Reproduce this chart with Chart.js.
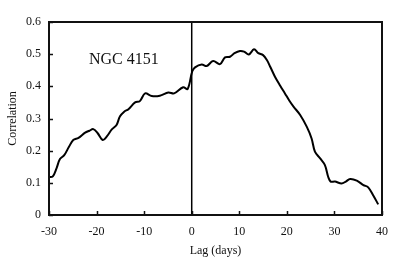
<!DOCTYPE html>
<html>
<head>
<meta charset="utf-8">
<script src="https://cdn.jsdelivr.net/npm/chart.js@4.4.0/dist/chart.umd.min.js"></script>
<style>
  html, body { margin: 0; padding: 0; background: #fff; }
  #wrap { width: 399px; height: 266px; }
</style>
</head>
<body>
<div id="wrap"><canvas id="graficoLag"></canvas></div>
<script>
// datos (lag en dias, correlacion)
const lagDias = [-30, -29.2, -28.4, -27.7, -26.8, -25.8, -24.9, -23.8, -22.4, -21.5, -20.7, -19.8, -18.7, -17.8,
  -16.8, -15.8, -15.1, -14.2, -13.3, -11.9, -10.9, -9.8, -8.4, -6.7, -4.9, -3.7, -1.8, -0.85,
  0.1, 0.7, 2.1, 3.15, 4.5, 5.95, 7.0, 8.05, 9.0, 10.15, 11.0, 12.0, 13.1, 14.0, 15.0, 15.8, 16.5,
  17.5, 18.6, 19.6, 20.5, 21.4, 22.8, 24.2, 25.2, 25.9, 27.0, 28.0, 28.7, 29.2, 30.1, 31.5, 32.4,
  33.3, 34.7, 36.1, 37.1, 38.2, 39.2];
const correlacion = [0.118, 0.120, 0.146, 0.174, 0.186, 0.212, 0.233, 0.240, 0.256, 0.262, 0.267, 0.255, 0.233, 0.245,
  0.266, 0.280, 0.306, 0.321, 0.329, 0.350, 0.354, 0.378, 0.370, 0.371, 0.381, 0.378, 0.397, 0.392,
  0.446, 0.459, 0.468, 0.463, 0.479, 0.469, 0.490, 0.492, 0.503, 0.510, 0.508, 0.499, 0.515, 0.503, 0.497, 0.482, 0.461,
  0.430, 0.402, 0.378, 0.356, 0.337, 0.311, 0.274, 0.238, 0.197, 0.176, 0.155, 0.118, 0.104, 0.104, 0.098, 0.104,
  0.112, 0.107, 0.093, 0.086, 0.060, 0.033];

// linea vertical en lag = 0
const lineaCero = [{ x: 0, y: 0 }, { x: 0, y: 0.6 }];

const ticksX = [-30, -20, -10, 0, 10, 20, 30, 40];
const ticksY = [0, 0.1, 0.2, 0.3, 0.4, 0.5, 0.6];
const etiqueta = { texto: 'NGC 4151', x: -21.6, y: 0.482 };

const fuente = 'Liberation Serif';

let puntos = [];
for (let i = 0; i < lagDias.length; i++) {
  puntos.push({ x: lagDias[i], y: correlacion[i] });
}

// marco, ticks hacia adentro y texto
const marcoPlugin = {
  id: 'marco',
  afterDraw(chart) {
    const ctx = chart.ctx;
    const area = chart.chartArea;
    const sx = chart.scales.x;
    const sy = chart.scales.y;
    ctx.save();
    ctx.strokeStyle = '#111';
    ctx.lineWidth = 2;
    ctx.strokeRect(area.left, area.top, area.right - area.left, area.bottom - area.top);
    ctx.lineWidth = 1.5;
    ctx.beginPath();
    ticksX.forEach(function (v) {
      let px = Math.round(sx.getPixelForValue(v)) + 0.5;
      ctx.moveTo(px, area.bottom);
      ctx.lineTo(px, area.bottom - 4);
    });
    ticksY.forEach(function (v) {
      let py = Math.round(sy.getPixelForValue(v)) + 0.5;
      ctx.moveTo(area.left, py);
      ctx.lineTo(area.left + 4, py);
    });
    ctx.stroke();
    ctx.fillStyle = '#111';
    ctx.font = '16px "' + fuente + '"';
    ctx.textAlign = 'left';
    ctx.textBaseline = 'middle';
    ctx.fillText(etiqueta.texto, sx.getPixelForValue(etiqueta.x), sy.getPixelForValue(etiqueta.y));
    ctx.restore();
  }
};

let ctxLag = document.getElementById('graficoLag');
let graficoLag = new Chart(ctxLag, {
  type: 'line',
  data: {
    datasets: [{
      data: puntos,
      borderColor: '#000',
      borderWidth: 2,
      pointRadius: 0,
      tension: 0.35,
      fill: false
    }, {
      data: lineaCero,
      borderColor: '#000',
      borderWidth: 1.5,
      pointRadius: 0,
      tension: 0
    }]
  },
  options: {
    responsive: true,
    maintainAspectRatio: false,
    animation: false,
    events: [],
    layout: { padding: { left: 0, right: 17, top: 22, bottom: 0 } },
    plugins: {
      legend: { display: false },
      tooltip: { enabled: false }
    },
    scales: {
      x: {
        type: 'linear',
        min: -30,
        max: 40,
        afterBuildTicks: function (scale) {
          scale.ticks = ticksX.map(function (v) { return { value: v }; });
        },
        afterFit: function (scale) { scale.height = 51; },
        grid: { display: false, drawTicks: false },
        border: { display: false },
        ticks: {
          padding: 10,
          color: '#111',
          font: { family: fuente, size: 12 },
          maxRotation: 0
        },
        title: {
          display: true,
          text: 'Lag (days)',
          color: '#111',
          font: { family: fuente, size: 12 },
          padding: { top: 0, bottom: 8 }
        }
      },
      y: {
        min: 0,
        max: 0.6,
        afterBuildTicks: function (scale) {
          scale.ticks = ticksY.map(function (v) { return { value: v }; });
        },
        afterFit: function (scale) { scale.width = 49; },
        grid: { display: false, drawTicks: false },
        border: { display: false },
        ticks: {
          padding: 8,
          color: '#111',
          font: { family: fuente, size: 12 },
          callback: function (v) { return v === 0 ? '0' : v.toFixed(1); }
        },
        title: {
          display: true,
          text: 'Correlation',
          color: '#111',
          font: { family: fuente, size: 12 },
          padding: { top: 6, bottom: 0 }
        }
      }
    }
  },
  plugins: [marcoPlugin]
});
</script>
</body>
</html>
